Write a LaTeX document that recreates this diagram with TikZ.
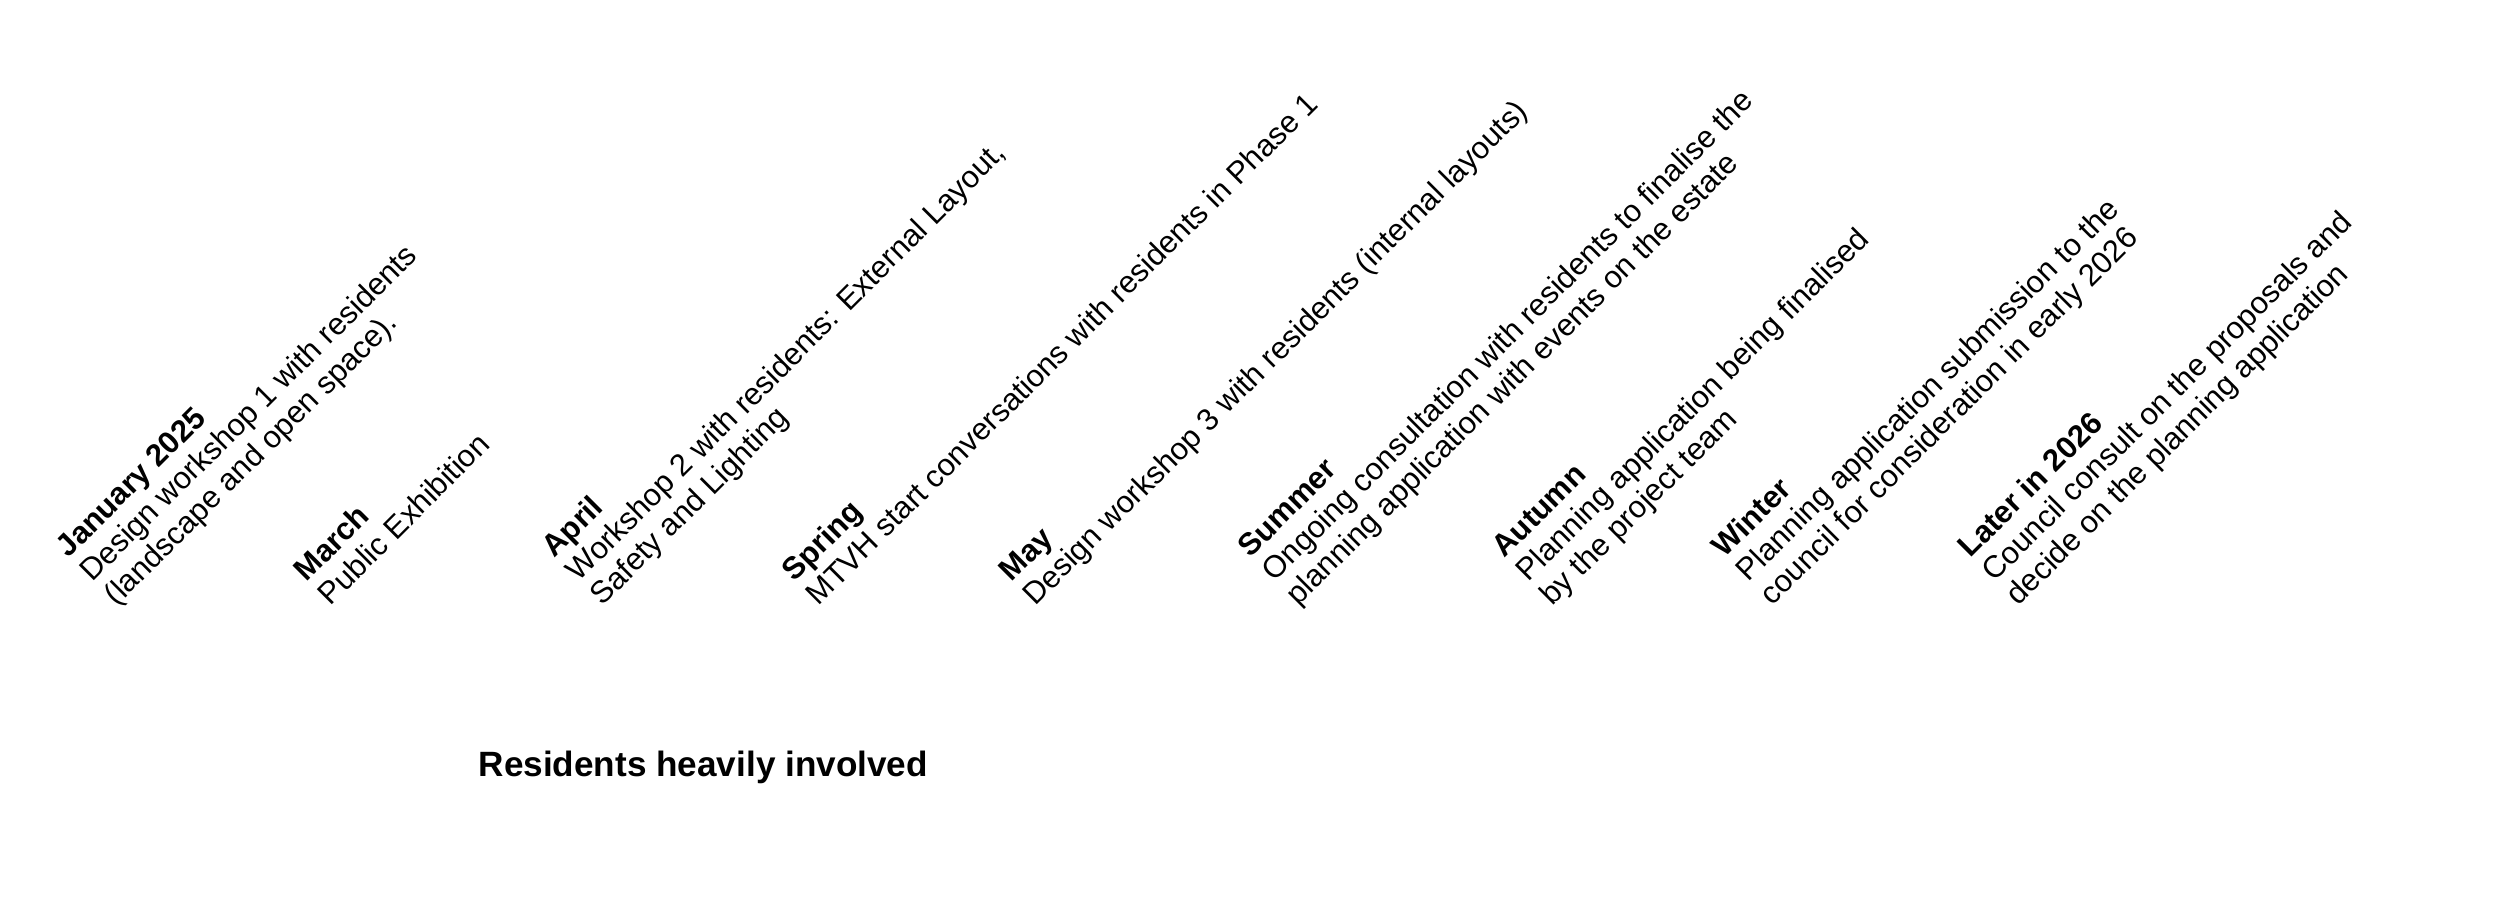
\documentclass[tikz,border=0pt]{standalone}
\usepackage{fontspec}
\setmainfont{Liberation Sans}
\begin{document}
\begin{tikzpicture}[
    entry/.style={rotate=45, anchor=south west, inner sep=0pt, align=left,
        text=textColour, font=\fontsize{8.8}{9.65}\selectfont,
        execute at end node=\strut},
    banner/.style={anchor=base west, inner sep=0pt, text=textColour,
        font=\fontsize{10}{12}\selectfont\bfseries}
]
    \definecolor{textColour}{HTML}{000000}
    \useasboundingbox (0,0) rectangle (25,9.01);

    % Lower left corners of the entries
    \coordinate (Jan) at (1.24,2.86);
    \coordinate (Mar) at (3.38,2.86);
    \coordinate (Apr) at (6.10,2.86);
    \coordinate (Spr) at (8.26,2.86);
    \coordinate (May) at (10.43,2.86);
    \coordinate (Sum) at (13.06,2.86);
    \coordinate (Aut) at (15.60,2.86);
    \coordinate (Win) at (17.80,2.86);
    \coordinate (Lat) at (20.26,2.86);

    % Timeline entries
    \node[entry] (janText) at (Jan) {\textbf{January 2025}\\Design workshop 1 with residents\\(landscape and open space).};
    \node[entry] (marText) at (Mar) {\textbf{March}\\Public Exhibition};
    \node[entry] (aprText) at (Apr) {\textbf{April}\\Workshop 2 with residents: External Layout,\\Safety and Lighting};
    \node[entry] (sprText) at (Spr) {\textbf{Spring}\\MTVH start conversations with residents in Phase 1};
    \node[entry] (mayText) at (May) {\textbf{May}\\Design workshop 3 with residents (internal layouts)};
    \node[entry] (sumText) at (Sum) {\textbf{Summer}\\Ongoing consultation with residents to finalise the\\planning application with events on the estate};
    \node[entry] (autText) at (Aut) {\textbf{Autumn}\\Planning application being finalised\\by the project team};
    \node[entry] (winText) at (Win) {\textbf{Winter}\\Planning application submission to the\\council for consideration in early 2026};
    \node[entry] (latText) at (Lat) {\textbf{Later in 2026}\\Council consult on the proposals and\\decide on the planning application};

    % Caption
    \node[banner] (involved) at (4.78,1.24) {Residents heavily involved};

\end{tikzpicture}
\end{document}
